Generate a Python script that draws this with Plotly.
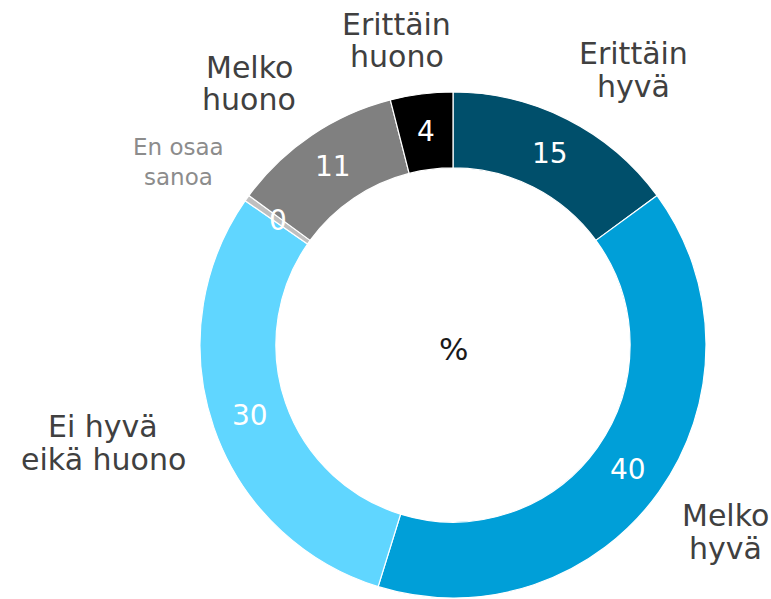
import math
import plotly.graph_objects as go

# ---- data ----
categories = ["Erittäin hyvä", "Melko hyvä", "Ei hyvä eikä huono", "En osaa sanoa", "Melko huono", "Erittäin huono"]
label_lines = [["Erittäin", "hyvä"], ["Melko", "hyvä"], ["Ei hyvä", "eikä huono"], ["En osaa", "sanoa"], ["Melko", "huono"], ["Erittäin", "huono"]]
values = [15, 40, 30, 0.4, 11, 4]
value_text = [str(int(round(v))) for v in values]
colors = ["#004F6B", "#009FD8", "#60D6FF", "#BFBFBF", "#808080", "#000000"]

W, H = 771, 599
CX, CY, R = 453, 345, 253
HOLE = 0.70

def px_x(x):
    return x / W

def px_y(y):
    return 1 - y / H

# label placement (pixel centre x, baselines)
label_pos = [(633, [64, 97]), (725, [526, 559]), (103, [437, 470]), (178, [155, 185]), (249, [78, 110]), (397, [35, 67])]
label_size = [30, 30, 30, 23, 30, 30]
label_color = ["#404040", "#404040", "#404040", "#8C8C8C", "#404040", "#404040"]

fig = go.Figure(go.Pie(
    labels=categories,
    values=values,
    textinfo="none",
    marker=dict(colors=colors, line=dict(color="white", width=1.2)),
    hole=HOLE,
    sort=False,
    direction="clockwise",
    rotation=0,
    showlegend=False,
    hoverinfo="label+value",
    domain=dict(x=[px_x(CX - R), px_x(CX + R)], y=[px_y(CY + R), px_y(CY - R)]),
))

annotations = []
# category labels
for lines, (x, bases), s, c in zip(label_lines, label_pos, label_size, label_color):
    for line, b in zip(lines, bases):
        annotations.append(dict(text=line, x=px_x(x), y=px_y(b - 0.35 * s), xref="paper", yref="paper",
                                xanchor="center", yanchor="middle", showarrow=False,
                                font=dict(family="DejaVu Sans", size=s, color=c)))

# value labels at the middle of the ring, at each slice's mid angle
total = sum(values)
cum = 0
rmid = R * (1 + HOLE) / 2
for v, t in zip(values, value_text):
    ang = math.radians((cum + v / 2) / total * 360)
    x = CX + rmid * math.sin(ang)
    y = CY - rmid * math.cos(ang)
    annotations.append(dict(text=t, x=px_x(x), y=px_y(y), xref="paper", yref="paper",
                            xanchor="center", yanchor="middle", showarrow=False,
                            font=dict(family="DejaVu Sans", size=28, color="white")))
    cum += v

# centre text
annotations.append(dict(text="%", x=px_x(CX), y=px_y(CY + 4), xref="paper", yref="paper",
                        xanchor="center", yanchor="middle", showarrow=False,
                        font=dict(family="DejaVu Sans", size=31, color="#1A1A1A")))

fig.update_layout(width=W, height=H, margin=dict(l=0, r=0, t=0, b=0),
                  paper_bgcolor="white", plot_bgcolor="white", annotations=annotations)

fig.write_html("out.html", config={"displayModeBar": False},
               post_script="document.body.style.margin='0px';")
